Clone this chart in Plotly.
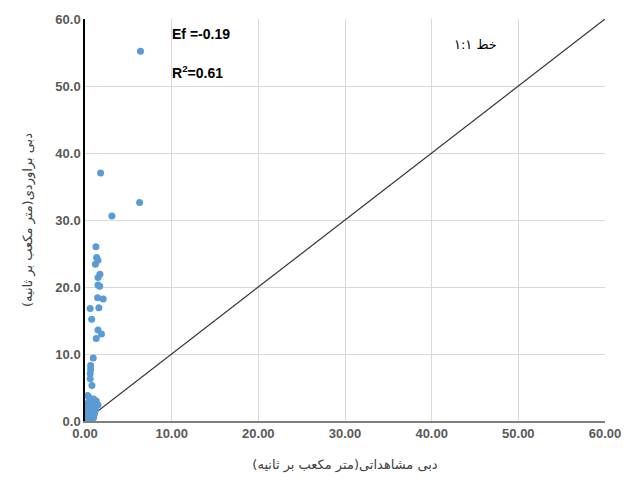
import plotly.graph_objects as go

observed = [6.4, 1.8, 3.1, 6.3,
            1.26, 1.34, 1.5, 1.2, 1.72, 1.5, 1.5, 1.7, 1.45, 2.1, 0.6, 1.6, 0.77,
            1.5, 1.9, 1.3, 0.95, 0.65, 0.65, 0.6, 0.6, 0.8,
            0.3, 0.5, 1.0, 1.3, 0.4, 0.7, 1.5, 0.2, 0.9, 0.5, 1.2, 0.3, 0.8, 0.6,
            0.4, 0.9, 0.2, 0.5, 0.7, 1.1, 0.3, 0.6, 0.1, 0.4, 0.8, 0.2, 0.5, 0.3, 1.0]
estimated = [55.2, 37.0, 30.6, 32.6,
             26.0, 24.4, 24.0, 23.4, 21.9, 21.4, 20.3, 20.1, 18.4, 18.2, 16.8, 16.9, 15.2,
             13.6, 13.0, 12.3, 9.4, 8.3, 7.7, 7.1, 6.3, 5.3,
             3.8, 3.5, 3.3, 3.0, 2.8, 2.5, 2.4, 2.2, 2.0, 1.8, 1.6, 1.5, 1.3, 1.2,
             1.0, 0.9, 0.8, 0.7, 0.6, 1.1, 0.5, 0.4, 0.3, 0.2, 0.3, 0.1, 0.2, 0.05, 0.5]
line_x = [0, 60]
line_y = [0, 60]
x_ticks = [0, 10, 20, 30, 40, 50, 60]
y_ticks = [0, 10, 20, 30, 40, 50, 60]

fig = go.Figure()
fig.add_trace(go.Scatter(x=line_x, y=line_y, mode="lines",
                         line=dict(color="#333333", width=1.2), hoverinfo="skip"))
fig.add_trace(go.Scatter(x=observed, y=estimated, mode="markers",
                         marker=dict(color="#5B9BD5", size=7)))

tick_font = dict(family="Liberation Sans", size=13, color="#595959")
fig.update_layout(
    width=633, height=483,
    margin=dict(l=85, r=25, t=16, b=62),
    paper_bgcolor="white", plot_bgcolor="white",
    showlegend=False,
    xaxis=dict(range=[0, 60], tickvals=x_ticks, ticktext=[f"<b>{v:.2f}</b>" for v in x_ticks],
               showgrid=True, gridcolor="#D9D9D9", gridwidth=1,
               showline=True, linecolor="#7F7F7F", linewidth=1.5,
               zeroline=False, ticks="", tickfont=tick_font,
               title=dict(text="دبی مشاهداتی(متر مکعب بر ثانیه)",
                          font=dict(family="DejaVu Sans", size=13, color="#404040"),
                          standoff=20)),
    yaxis=dict(range=[0, 60], tickvals=y_ticks, ticktext=[f"<b>{v:.1f}</b>" for v in y_ticks],
               showgrid=True, gridcolor="#D9D9D9", gridwidth=1,
               showline=True, linecolor="#000000", linewidth=1.5,
               zeroline=False, ticks="", tickfont=tick_font,
               title=dict(text="دبی براوردی(متر مکعب بر ثانیه)",
                          font=dict(family="DejaVu Sans", size=13, color="#404040"),
                          standoff=20)),
    annotations=[
        dict(x=9.8, y=57.7, xref="x", yref="y", text="<b>Ef =-0.19</b>", showarrow=False,
             xanchor="left", font=dict(family="Liberation Sans", size=14, color="#000000")),
        dict(x=9.8, y=52.1, xref="x", yref="y", text="<b>R<sup>2</sup>=0.61</b>", showarrow=False,
             xanchor="left", font=dict(family="Liberation Sans", size=14, color="#000000")),
        dict(x=45.0, y=56.2, xref="x", yref="y", text="خط ۱:۱", showarrow=False,
             xanchor="center", font=dict(family="DejaVu Sans", size=13, color="#000000")),
    ],
)

fig.write_html("out.html")
